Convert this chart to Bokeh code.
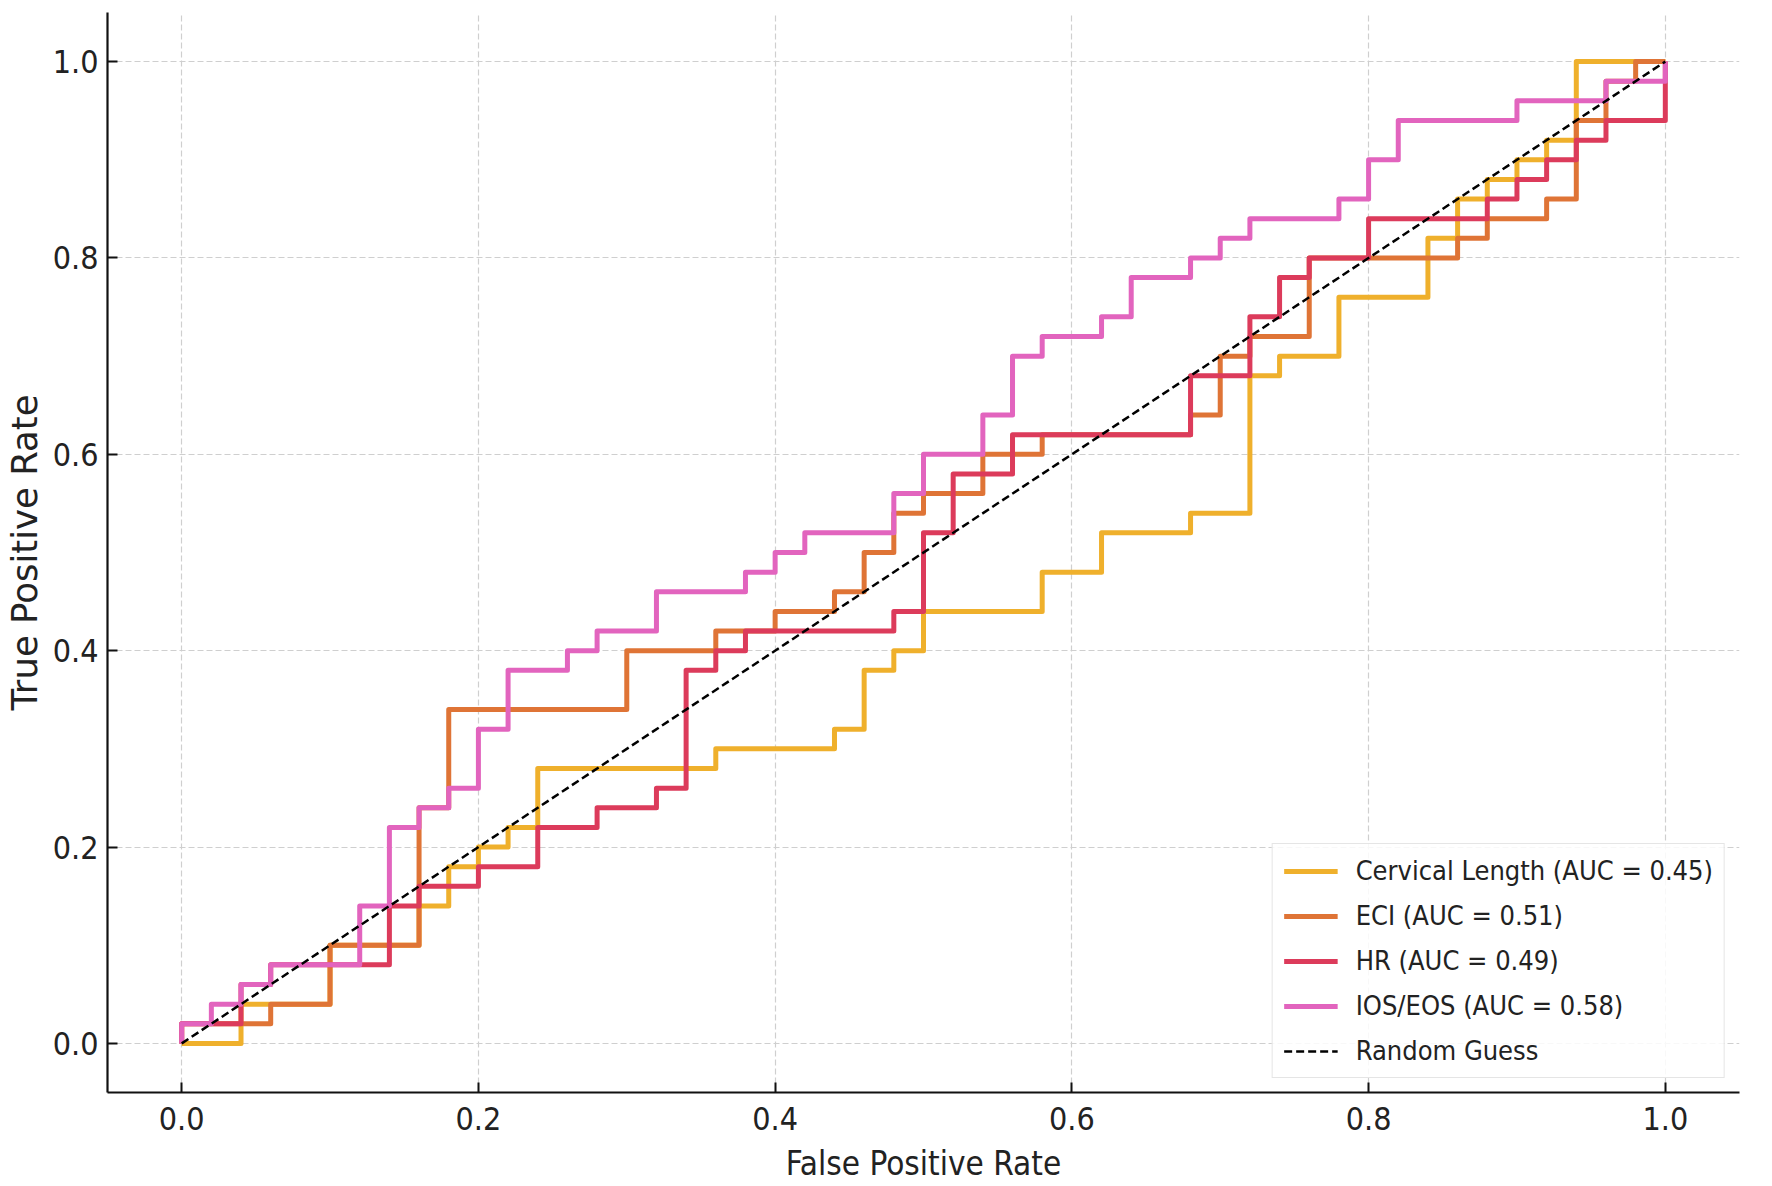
from bokeh.plotting import figure
from bokeh.models import Range1d, FixedTicker, PrintfTickFormatter, Legend, LegendItem
from bokeh.embed import file_html
from bokeh.resources import INLINE

# ---- data (ROC corner points) ----
cl_fpr = [0, 0.04, 0.04, 0.10, 0.10, 0.16, 0.16, 0.18, 0.18, 0.20, 0.20, 0.22, 0.22, 0.24, 0.24,
          0.36, 0.36, 0.44, 0.44, 0.46, 0.46, 0.48, 0.48, 0.50, 0.50, 0.58, 0.58, 0.62, 0.62,
          0.68, 0.68, 0.72, 0.72, 0.74, 0.74, 0.78, 0.78, 0.84, 0.84, 0.86, 0.86, 0.88, 0.88,
          0.90, 0.90, 0.92, 0.92, 0.94, 0.94, 1.0]
cl_tpr = [0, 0, 0.04, 0.04, 0.10, 0.10, 0.14, 0.14, 0.18, 0.18, 0.20, 0.20, 0.22, 0.22, 0.28,
          0.28, 0.30, 0.30, 0.32, 0.32, 0.38, 0.38, 0.40, 0.40, 0.44, 0.44, 0.48, 0.48, 0.52,
          0.52, 0.54, 0.54, 0.68, 0.68, 0.70, 0.70, 0.76, 0.76, 0.82, 0.82, 0.86, 0.86, 0.88,
          0.88, 0.90, 0.90, 0.92, 0.92, 1.0, 1.0]

eci_fpr = [0, 0, 0.06, 0.06, 0.10, 0.10, 0.16, 0.16, 0.18, 0.18, 0.30, 0.30, 0.36, 0.36, 0.40,
           0.40, 0.44, 0.44, 0.46, 0.46, 0.48, 0.48, 0.50, 0.50, 0.54, 0.54, 0.58, 0.58, 0.68,
           0.68, 0.70, 0.70, 0.72, 0.72, 0.76, 0.76, 0.86, 0.86, 0.88, 0.88, 0.92, 0.92, 0.94,
           0.94, 0.96, 0.96, 0.98, 0.98, 1.0]
eci_tpr = [0, 0.02, 0.02, 0.04, 0.04, 0.10, 0.10, 0.24, 0.24, 0.34, 0.34, 0.40, 0.40, 0.42, 0.42,
           0.44, 0.44, 0.46, 0.46, 0.50, 0.50, 0.54, 0.54, 0.56, 0.56, 0.60, 0.60, 0.62, 0.62,
           0.64, 0.64, 0.70, 0.70, 0.72, 0.72, 0.80, 0.80, 0.82, 0.82, 0.84, 0.84, 0.86, 0.86,
           0.94, 0.94, 0.98, 0.98, 1.0, 1.0]

hr_fpr = [0, 0, 0.04, 0.04, 0.06, 0.06, 0.14, 0.14, 0.16, 0.16, 0.20, 0.20, 0.24, 0.24, 0.28,
          0.28, 0.32, 0.32, 0.34, 0.34, 0.36, 0.36, 0.38, 0.38, 0.48, 0.48, 0.50, 0.50, 0.52,
          0.52, 0.56, 0.56, 0.68, 0.68, 0.72, 0.72, 0.74, 0.74, 0.76, 0.76, 0.80, 0.80, 0.88,
          0.88, 0.90, 0.90, 0.92, 0.92, 0.94, 0.94, 0.96, 0.96, 1.0, 1.0]
hr_tpr = [0, 0.02, 0.02, 0.06, 0.06, 0.08, 0.08, 0.14, 0.14, 0.16, 0.16, 0.18, 0.18, 0.22, 0.22,
          0.24, 0.24, 0.26, 0.26, 0.38, 0.38, 0.40, 0.40, 0.42, 0.42, 0.44, 0.44, 0.52, 0.52,
          0.58, 0.58, 0.62, 0.62, 0.68, 0.68, 0.74, 0.74, 0.78, 0.78, 0.80, 0.80, 0.84, 0.84,
          0.86, 0.86, 0.88, 0.88, 0.90, 0.90, 0.92, 0.92, 0.94, 0.94, 1.0]

ios_fpr = [0, 0, 0.02, 0.02, 0.04, 0.04, 0.06, 0.06, 0.12, 0.12, 0.14, 0.14, 0.16, 0.16, 0.18,
           0.18, 0.20, 0.20, 0.22, 0.22, 0.26, 0.26, 0.28, 0.28, 0.32, 0.32, 0.38, 0.38, 0.40,
           0.40, 0.42, 0.42, 0.48, 0.48, 0.50, 0.50, 0.54, 0.54, 0.56, 0.56, 0.58, 0.58, 0.62,
           0.62, 0.64, 0.64, 0.68, 0.68, 0.70, 0.70, 0.72, 0.72, 0.78, 0.78, 0.80, 0.80, 0.82,
           0.82, 0.90, 0.90, 0.96, 0.96, 1.0, 1.0]
ios_tpr = [0, 0.02, 0.02, 0.04, 0.04, 0.06, 0.06, 0.08, 0.08, 0.14, 0.14, 0.22, 0.22, 0.24, 0.24,
           0.26, 0.26, 0.32, 0.32, 0.38, 0.38, 0.40, 0.40, 0.42, 0.42, 0.46, 0.46, 0.48, 0.48,
           0.50, 0.50, 0.52, 0.52, 0.56, 0.56, 0.60, 0.60, 0.64, 0.64, 0.70, 0.70, 0.72, 0.72,
           0.74, 0.74, 0.78, 0.78, 0.80, 0.80, 0.82, 0.82, 0.84, 0.84, 0.86, 0.86, 0.90, 0.90,
           0.94, 0.94, 0.96, 0.96, 0.98, 0.98, 1.0]

diag_x = [0.0, 1.0]
diag_y = [0.0, 1.0]

series_names = ["Cervical Length (AUC = 0.45)", "ECI (AUC = 0.51)",
                "HR (AUC = 0.49)", "IOS/EOS (AUC = 0.58)"]
diag_name = "Random Guess"
tick_values = [0.0, 0.2, 0.4, 0.6, 0.8, 1.0]
x_title = "False Positive Rate"
y_title = "True Positive Rate"

colors = ["#EFB02C", "#DF7436", "#DC3B5B", "#E264BE"]

COND = "DejaVu Sans Condensed"
TXT = "#222222"

p = figure(width=1772, height=1186, output_backend="svg", toolbar_location=None,
           x_range=Range1d(-0.05, 1.05), y_range=Range1d(-0.05, 1.05),
           min_border_left=107, min_border_right=33, min_border_top=12, min_border_bottom=94)
p.outline_line_color = None
p.background_fill_color = "white"

for ax in (p.xaxis[0], p.yaxis[0]):
    ax.ticker = FixedTicker(ticks=tick_values)
    ax.formatter = PrintfTickFormatter(format="%.1f")
    ax.axis_line_color = "#111111"
    ax.axis_line_width = 2.2
    ax.major_tick_line_color = "#111111"
    ax.major_tick_line_width = 2
    ax.major_tick_in = 10
    ax.major_tick_out = 0
    ax.minor_tick_in = 0
    ax.minor_tick_out = 0
    ax.major_label_text_font = COND
    ax.major_label_text_font_size = "32px"
    ax.major_label_text_color = TXT
    ax.axis_label_text_font_style = "normal"
    ax.axis_label_text_color = TXT

p.xaxis.axis_label = x_title
p.xaxis.axis_label_text_font = COND
p.xaxis.axis_label_text_font_size = "33px"
p.xaxis.major_label_standoff = 14
p.xaxis.axis_label_standoff = 11

p.yaxis.axis_label = y_title
p.yaxis.axis_label_text_font = "DejaVu Sans"
p.yaxis.axis_label_text_font_size = "35.5px"
p.yaxis.major_label_standoff = 9
p.yaxis.axis_label_standoff = 5

for g in (p.xgrid[0], p.ygrid[0]):
    g.grid_line_color = "#cfcfcf"
    g.grid_line_width = 1.2
    g.grid_line_dash = "6 3"

renderers = []
for fx, ty, c in zip([cl_fpr, eci_fpr, hr_fpr, ios_fpr],
                     [cl_tpr, eci_tpr, hr_tpr, ios_tpr], colors):
    r = p.line(fx, ty, line_color=c, line_width=5, line_join="round")
    renderers.append(r)

rd = p.line(diag_x, diag_y, line_color="black", line_width=2.5, line_dash="8 4")

items = [LegendItem(label=n, renderers=[r]) for n, r in zip(series_names, renderers)]
items.append(LegendItem(label=diag_name, renderers=[rd]))

legend = Legend(items=items, location="bottom_right", margin=14, padding=11, spacing=14,
                glyph_width=54, glyph_height=30, label_height=30, label_standoff=18,
                label_text_font=COND, label_text_font_size="27px", label_text_color=TXT,
                border_line_color="#cccccc", border_line_width=1.5,
                background_fill_color="white", background_fill_alpha=0.85)
p.add_layout(legend)

open("out.html", "w").write(file_html(p, INLINE))
